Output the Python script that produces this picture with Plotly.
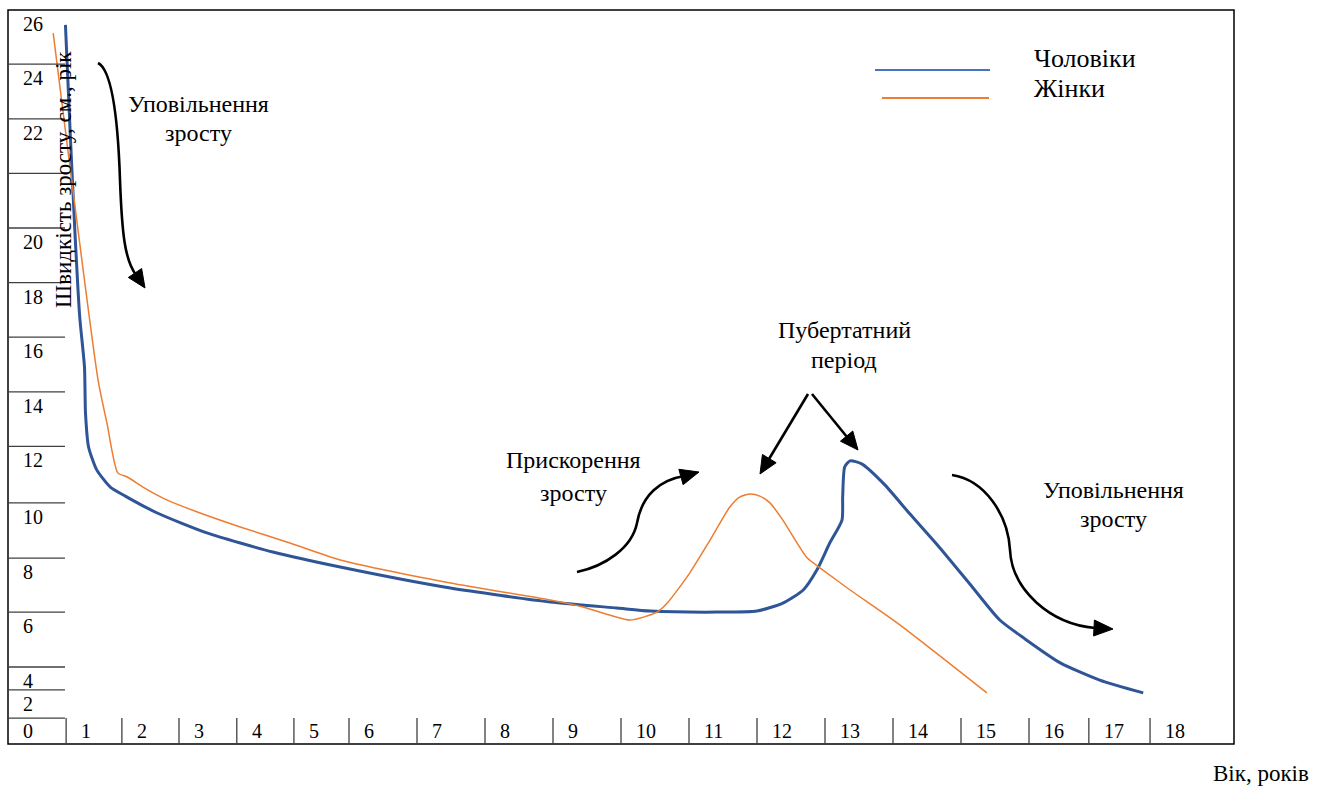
import plotly.graph_objects as go

# ---------------- data ----------------
series_names = ["Чоловіки", "Жінки"]

male_age = [1.83, 1.90, 1.97, 2.04, 2.11, 2.125, 2.17, 2.29, 2.49, 2.71, 3.18, 3.91,
            4.88, 5.87, 7.49, 8.96, 9.94, 10.43, 11.41, 12.00, 12.38, 12.68, 12.88,
            13.07, 13.25, 13.26, 13.29, 13.37, 13.54, 13.88, 14.25, 14.69, 15.13,
            15.57, 15.94, 16.46, 17.04, 17.68]
male_velocity = [27.44, 23.48, 19.82, 16.74, 14.91, 13.22, 11.98, 11.14, 10.51, 10.18,
                 9.56, 8.83, 8.13, 7.58, 6.81, 6.30, 6.08, 5.97, 5.93, 5.97, 6.26,
                 6.74, 7.47, 8.46, 9.30, 10.15, 11.25, 11.47, 11.36, 10.59, 9.52,
                 8.28, 6.96, 5.64, 4.95, 4.07, 3.44, 2.97]

female_age = [1.65, 2.31, 2.44, 2.60, 2.74, 2.97, 3.32, 3.81, 4.40, 5.13, 5.87, 7.49,
              8.96, 9.44, 10.13, 10.53, 10.68, 11.01, 11.31, 11.60, 11.75, 11.90,
              12.04, 12.19, 12.38, 12.59, 12.74, 12.97, 13.37, 14.10, 15.38]
female_velocity = [27.14, 14.43, 12.86, 11.03, 10.88, 10.51, 10.04, 9.56, 9.05, 8.46,
                   7.84, 7.00, 6.37, 6.12, 5.64, 5.93, 6.26, 7.36, 8.57, 9.78, 10.15,
                   10.26, 10.18, 9.93, 9.30, 8.46, 7.91, 7.47, 6.74, 5.46, 2.97]

x_tick_labels = ["0", "1", "2", "3", "4", "5", "6", "7", "8", "9", "10",
                 "11", "12", "13", "14", "15", "16", "17", "18"]
y_tick_labels = ["26", "24", "22", "", "20", "18", "16", "14", "12",
                 "10", "8", "6", "4", "2", ""]

y_title = "Швидкість зросту, см., рік"
x_title = "Вік, років"
notes = [["Уповільнення", "зросту"], ["Прискорення", "зросту"],
         ["Пубертатний", "період"], ["Уповільнення", "зросту"]]

# ---------------- layout helpers ----------------
W, H = 1318, 787
ML, MT, MR, MB = 8, 10, 84, 43


def X(px):
    return 11 + (px - 689) / 68.0


def Y(py):
    return 20 - (py - 228) / 27.3


FONT = "Liberation Serif, Times New Roman, serif"
BLUE = "#2F5597"
BLUE_LEG = "#4472C4"
ORANGE = "#ED7D31"

# table geometry (layout)
x_cell_edges = [X(8), 1.84, 2.66, 3.5, 4.35, 5.19, 6.0, 7, 8, 9, 10, 11, 12, 13,
                14, 15, 16, 16.88, 17.78, X(1234)]
y_row_lines = [Y(10), 26.0, 24.0, 22.0, 20.0, 18.0, 16.0, 14.0, 12.0, 9.93,
               7.91, 5.93, 3.92, 3.08, 2.05]

fig = go.Figure()

fig.add_trace(go.Scatter(x=male_age, y=male_velocity, mode="lines",
                         name=series_names[0],
                         line=dict(color=BLUE, width=3, shape="spline", smoothing=0.6),
                         showlegend=False, hoverinfo="skip"))
fig.add_trace(go.Scatter(x=female_age, y=female_velocity, mode="lines",
                         name=series_names[1],
                         line=dict(color=ORANGE, width=1.5, shape="spline", smoothing=0.6),
                         showlegend=False, hoverinfo="skip"))

shapes = []
annotations = []

# outer frame
shapes.append(dict(type="rect", xref="paper", yref="paper", x0=0, y0=0, x1=1, y1=1,
                   line=dict(color="#000000", width=1.5), layer="above"))

GRID = dict(color="#404040", width=1.3)
TICKFONT = dict(family=FONT, size=20, color="#000")
# left column lines + labels
for yv, lab in zip(y_row_lines, y_tick_labels):
    if yv < Y(12):
        shapes.append(dict(type="line", xref="x", yref="y", x0=X(8), x1=X(65),
                           y0=yv, y1=yv, line=GRID))
    if lab:
        annotations.append(dict(x=X(21), y=yv, xref="x", yref="y", text=lab,
                                showarrow=False, xanchor="left", yanchor="middle",
                                yshift=-14, font=TICKFONT))

# bottom row separators + labels
for i, lab in enumerate(x_tick_labels):
    x0 = x_cell_edges[i]
    if i > 0:
        shapes.append(dict(type="line", xref="x", yref="y", x0=x0, x1=x0,
                           y0=Y(744), y1=Y(718), line=GRID))
    annotations.append(dict(x=x0, y=Y(731), xref="x", yref="y", text=lab,
                            showarrow=False, xanchor="left", yanchor="middle",
                            xshift=13, font=TICKFONT))

# axis titles
annotations.append(dict(x=X(63), y=Y(180), xref="x", yref="y", text=y_title,
                        textangle=-90, showarrow=False, xanchor="center",
                        yanchor="middle", font=dict(family=FONT, size=23, color="#000")))
annotations.append(dict(x=(1311 - ML) / (W - ML - MR), y=(H - MB - 773) / (H - MT - MB),
                        xref="paper", yref="paper", text=x_title, showarrow=False,
                        xanchor="right", yanchor="middle",
                        font=dict(family=FONT, size=23, color="#000")))

# manual legend
leg_lines = [((875, 990, 70), BLUE_LEG), ((882, 989, 98), ORANGE)]
leg_text_y = [58, 88]
for (ln, col), name, ty in zip(leg_lines, series_names, leg_text_y):
    shapes.append(dict(type="line", xref="x", yref="y", x0=X(ln[0]), x1=X(ln[1]),
                       y0=Y(ln[2]), y1=Y(ln[2]), line=dict(color=col, width=2)))
    annotations.append(dict(x=X(1032), y=Y(ty), xref="x", yref="y", text=name,
                            showarrow=False, xanchor="left", yanchor="middle",
                            font=dict(family=FONT, size=26, color="#000")))

# notes text
note_pos = [(198, 104, 133), (573, 460, 493), (844, 330, 360), (1113, 490, 519)]
for (cx, y1, y2), (l1, l2) in zip(note_pos, notes):
    for t, ty in ((l1, y1), (l2, y2)):
        annotations.append(dict(x=X(cx), y=Y(ty), xref="x", yref="y", text=t,
                                showarrow=False, xanchor="center", yanchor="middle",
                                font=dict(family=FONT, size=24, color="#000")))


# arrows (pixel-measured layout, converted to axis units)
def path_from_px(cmds):
    out = []
    for c in cmds:
        op, pts = c[0], c[1:]
        out.append(op + " " + " ".join(f"{X(px):.4f},{Y(py):.4f}" for px, py in pts))
    return " ".join(out)


def head(tip, base, hw=8):
    tx, ty = tip
    bx, by = base
    dx, dy = tx - bx, ty - by
    L = (dx * dx + dy * dy) ** 0.5
    nx, ny = -dy / L, dx / L
    p1 = (bx + nx * hw, by + ny * hw)
    p2 = (bx - nx * hw, by - ny * hw)
    return path_from_px([("M", tip), ("L", p1), ("L", p2)]) + " Z"


ARW = dict(color="#000000", width=2.6)
arrow_paths = [
    ([("M", (98, 63)), ("C", (112, 70), (118, 120), (120, 180)),
      ("C", (122, 235), (125, 260), (136, 275))], (145, 288), (135, 273)),
    ([("M", (577, 572)), ("C", (605, 566), (632, 548), (637, 523)),
      ("C", (642, 495), (660, 480), (684, 476))], (699, 472), (681, 477)),
    ([("M", (808, 394)), ("L", (769, 459))], (760, 474), (769.3, 458.6)),
    ([("M", (812, 394)), ("L", (847, 437))], (858, 450), (846.6, 436.1)),
    ([("M", (952, 475)), ("C", (985, 480), (1008, 515), (1010, 550)),
      ("C", (1012, 590), (1050, 624), (1095, 628))], (1113, 629), (1094, 628)),
]
for cmds, tip, base in arrow_paths:
    shapes.append(dict(type="path", xref="x", yref="y", path=path_from_px(cmds),
                       line=ARW, fillcolor="rgba(0,0,0,0)"))
    shapes.append(dict(type="path", xref="x", yref="y", path=head(tip, base),
                       line=dict(color="#000000", width=1), fillcolor="#000000"))

fig.update_layout(
    width=W, height=H,
    margin=dict(l=ML, r=MR, t=MT, b=MB, pad=0),
    paper_bgcolor="white", plot_bgcolor="white",
    xaxis=dict(range=[X(8), X(1234)], visible=False, fixedrange=True),
    yaxis=dict(range=[Y(744), Y(10)], visible=False, fixedrange=True),
    shapes=shapes, annotations=annotations, showlegend=False,
)

fig.write_html("out.html", config={"displayModeBar": False},
               post_script="document.body.style.margin='0';")
